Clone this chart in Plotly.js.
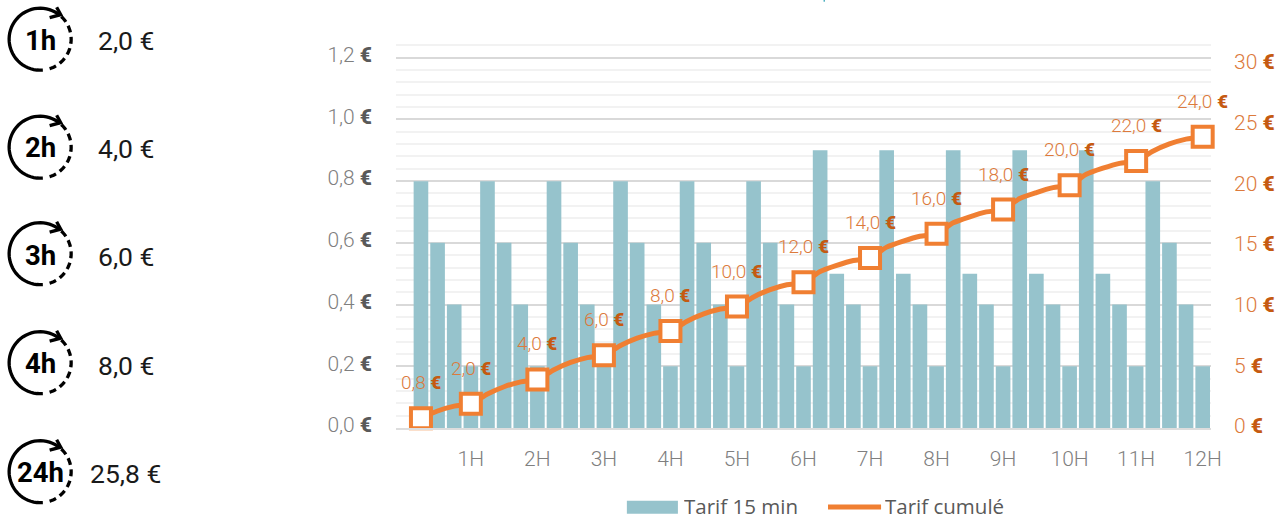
<!DOCTYPE html>
<html><head><meta charset="utf-8">
<script src="https://cdn.plot.ly/plotly-3.0.1.min.js"></script>
<style>html,body{margin:0;padding:0;background:#fff;overflow:hidden}#c{width:1287px;height:517px}</style>
</head><body><div id="c"></div>
<script>
const tarif15 = [0.8,0.6,0.4,0.2, 0.8,0.6,0.4,0.2, 0.8,0.6,0.4,0.2, 0.8,0.6,0.4,0.2, 0.8,0.6,0.4,0.2, 0.8,0.6,0.4,0.2,
                 0.9,0.5,0.4,0.2, 0.9,0.5,0.4,0.2, 0.9,0.5,0.4,0.2, 0.9,0.5,0.4,0.2, 0.9,0.5,0.4,0.2, 0.8,0.6,0.4,0.2];
const tarifCumule = [0.8,1.4,1.8,2.0, 2.8,3.4,3.8,4.0, 4.8,5.4,5.8,6.0, 6.8,7.4,7.8,8.0, 8.8,9.4,9.8,10.0, 10.8,11.4,11.8,12.0,
                 12.9,13.4,13.8,14.0, 14.9,15.4,15.8,16.0, 16.9,17.4,17.8,18.0, 18.9,19.4,19.8,20.0, 20.9,21.4,21.8,22.0, 22.8,23.4,23.8,24.0];
const hourSlots = [4,8,12,16,20,24,28,32,36,40,44,48];
const hourLabels = ['1H','2H','3H','4H','5H','6H','7H','8H','9H','10H','11H','12H'];
const labelSlots = [1,4,8,12,16,20,24,28,32,36,40,44,48];
const leftTicks = [0,0.2,0.4,0.6,0.8,1.0,1.2];
const rightTicks = [0,5,10,15,20,25,30];
const durations = ['1h','2h','3h','4h','24h'];
const prices = ['2,0 €','4,0 €','6,0 €','8,0 €','25,8 €'];
const seriesNames = ['Tarif 15 min','Tarif cumulé'];

const W=1287,H=517,L=396.3,R=1210.7,T=33.3,B=428.3;
const px=x=>(x-L)/(R-L), py=y=>1-(y-T)/(B-T);
const slots=tarif15.map((_,i)=>i+1);
const eur=(n,c1,c2)=>`<span style="color:${c1}">${n} </span><span style="color:${c2};font-weight:900">€</span>`;
const fr=(v,d)=>v.toFixed(d).replace('.',',');
const ORANGE='#f07f32',TEAL='#96c3cc';

const shapes=[],annotations=[];
function poly(pts,o){shapes.push(Object.assign({type:'path',xref:'paper',yref:'paper',layer:'above',
  path:'M'+pts.map(p=>px(p[0]).toFixed(5)+','+py(p[1]).toFixed(5)).join('L'),line:{color:'#000',width:3.3}},o||{}));}
function arc(cx,cy,r,a0,a1){const n=40,p=[];for(let i=0;i<=n;i++){const a=(a0+(a1-a0)*i/n)*Math.PI/180;p.push([cx+r*Math.cos(a),cy+r*Math.sin(a)]);}return p;}
const iconY=[39.5,147.5,254,363,472], textY=[40.5,147.5,256,363.5,473], priceY=[41,148.5,257,365.5,474];
const cx=40.7;
durations.forEach((d,i)=>{
  const cy=iconY[i];
  poly(arc(cx,cy,31,85,310));
  poly(arc(cx,cy,31,-47,78),{line:{color:'#000',width:3.3,dash:'7px,4.5px'}});
  poly([[cx+16.5,cy-32],[cx+20.6,cy-24.5],[cx+9.5,cy-21.5]]);
  annotations.push({xref:'paper',yref:'paper',x:px(cx),y:py(textY[i]),text:'<b>'+d+'</b>',showarrow:false,xanchor:'center',yanchor:'middle',
    font:{family:'Roboto',size:27.5,color:'#000',weight:700}});
  annotations.push({xref:'paper',yref:'paper',x:px(126.3),y:py(priceY[i]),text:prices[i],showarrow:false,xanchor:'center',yanchor:'middle',
    font:{family:'Roboto',size:26.5,color:'#1a1a1a',weight:400}});
});
// data labels
labelSlots.forEach(s=>{
  const v=tarifCumule[s-1];
  annotations.push({xref:'x',yref:'y2',x:s,y:v,yshift:35.5,text:eur(fr(v,1),'#dc7a3c','#c55a11'),showarrow:false,xanchor:'center',yanchor:'middle',
    font:{family:'Roboto',size:19,weight:300,color:'#dc7a3c'}});
});
// legend
shapes.push({type:'rect',xref:'paper',yref:'paper',x0:px(627),x1:px(678),y0:py(514),y1:py(501),fillcolor:TEAL,line:{width:0},layer:'above'});
poly([[828,507.3],[881,507.3]],{line:{color:ORANGE,width:5}});
annotations.push({xref:'paper',yref:'paper',x:px(682),y:py(506.5),height:20,text:seriesNames[0],showarrow:false,xanchor:'left',yanchor:'middle',font:{family:'Open Sans',size:20.5,color:'#595959'}});
annotations.push({xref:'paper',yref:'paper',x:px(882.5),y:py(506.5),height:20,text:seriesNames[1],showarrow:false,xanchor:'left',yanchor:'middle',font:{family:'Open Sans',size:20.5,color:'#595959'}});
// small clipped remnant at the top edge
shapes.push({type:'rect',xref:'paper',yref:'paper',x0:px(823.5),x1:px(825),y0:py(2),y1:py(0),fillcolor:'#4fb0c0',line:{width:0},layer:'above'});

const traces=[
 {type:'bar',x:slots,y:tarif15,name:seriesNames[0],marker:{color:TEAL,line:{width:0}},yaxis:'y',hoverinfo:'skip'},
 {type:'scatter',mode:'lines+markers',x:slots,y:tarifCumule,name:seriesNames[1],yaxis:'y2',hoverinfo:'skip',cliponaxis:false,
  line:{color:ORANGE,width:5,shape:'spline',smoothing:0.7},
  marker:{symbol:'square',color:'#fff',opacity:1,size:slots.map(s=>labelSlots.includes(s)?20:0),line:{color:ORANGE,width:slots.map(s=>labelSlots.includes(s)?4:0)}}}
];
const tickF={family:'Roboto',size:21,weight:300,color:'#7f7f7f'};
const layout={width:W,height:H,paper_bgcolor:'#fff',plot_bgcolor:'#fff',showlegend:false,hovermode:false,bargap:0.12,
 margin:{l:L,r:W-R,t:T,b:H-B,pad:0},
 xaxis:{type:'linear',range:[-0.5,48.5],tickmode:'array',tickvals:hourSlots,ticktext:hourLabels,showgrid:false,zeroline:false,showline:true,linecolor:'#dddddd',linewidth:2,
   ticks:'',ticklabelstandoff:11,tickfont:tickF},
 yaxis:{range:[0,1.28],tickmode:'array',tickvals:leftTicks,ticktext:leftTicks.map(v=>eur(fr(v,1),'#7f7f7f','#595959')),showline:false,zeroline:false,
   gridcolor:'#d9d9d9',gridwidth:2,ticks:'',ticklabelstandoff:23,ticklabelshift:-3,tickfont:tickF,
   minor:{tickmode:'linear',tick0:0,dtick:0.04,showgrid:true,gridcolor:'#f2f2f2',gridwidth:2,ticks:''}},
 yaxis2:{overlaying:'y',side:'right',range:[0,32.54],tickmode:'array',tickvals:rightTicks,ticktext:rightTicks.map(v=>eur(String(v),'#dc7a3c','#c55a11')),showgrid:false,zeroline:false,showline:false,
   ticks:'',ticklabelstandoff:22,ticklabelshift:-2,tickfont:Object.assign({},tickF,{color:'#dc7a3c'})},
 shapes,annotations
};
Plotly.newPlot('c',traces,layout,{displayModeBar:false,staticPlot:true});
</script></body></html>
